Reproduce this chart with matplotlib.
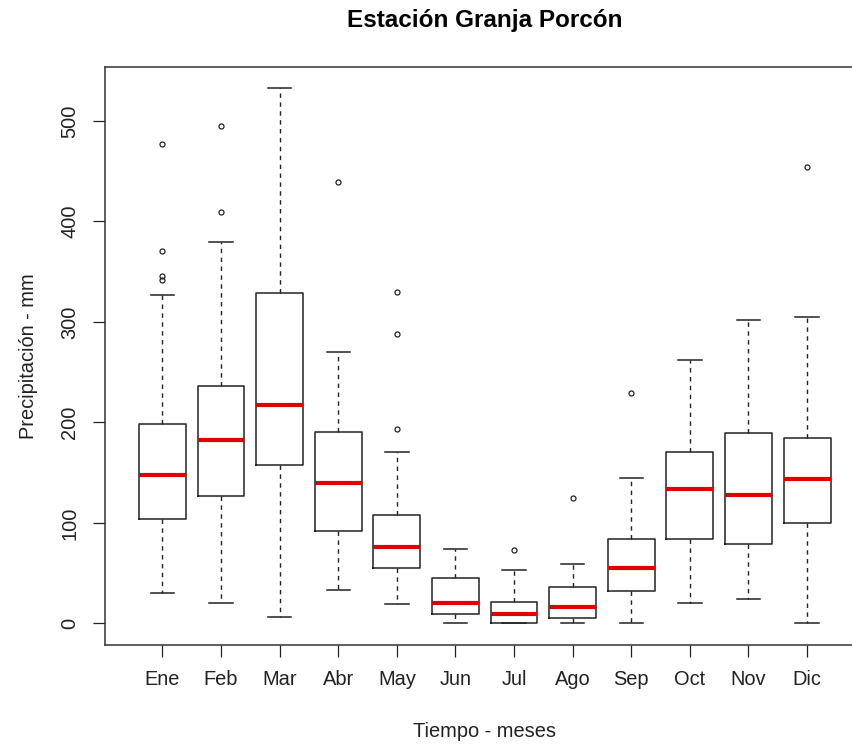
#!/usr/bin/env python3
"""Boxplot of monthly precipitation, Estación Granja Porcón."""

import matplotlib
matplotlib.use("Agg")
import matplotlib.pyplot as plt

# Monthly summary statistics (mm)
months = ["Ene", "Feb", "Mar", "Abr", "May", "Jun",
          "Jul", "Ago", "Sep", "Oct", "Nov", "Dic"]
whisker_low = [30, 20, 6, 33, 19, 0, 0, 0, 0, 20, 24, 0]
quartile_1 = [104, 127, 158, 92, 55, 9, 0, 5, 32, 84, 79, 100]
medians = [148, 183, 217, 140, 76, 20, 9, 16, 55, 134, 128, 144]
quartile_3 = [198, 236, 329, 191, 108, 45, 21, 36, 84, 171, 190, 185]
whisker_high = [327, 380, 533, 270, 171, 74, 53, 59, 145, 262, 302, 305]
outliers = [
    [477, 371, 346, 342],
    [495, 409],
    [],
    [439],
    [330, 288, 194],
    [],
    [73],
    [125],
    [229],
    [],
    [],
    [454],
]

W, H = 853, 746

plt.rcParams.update({
    "font.family": ["Liberation Sans", "DejaVu Sans"],
})

fig = plt.figure(figsize=(W / 100, H / 100), dpi=100, facecolor="white")

# Plot region in pixels; right edge of the box lies past the image border
left, right, top, bottom = 105, 864.5, 67, 645
ax = fig.add_axes([left / W, 1 - bottom / H, (right - left) / W, (bottom - top) / H])

stats = []
for i, m in enumerate(months):
    stats.append(dict(
        label=m,
        whislo=whisker_low[i],
        q1=quartile_1[i],
        med=medians[i],
        q3=quartile_3[i],
        whishi=whisker_high[i],
        fliers=outliers[i],
    ))

ax.bxp(
    stats,
    positions=range(1, len(months) + 1),
    widths=0.8,
    capwidths=0.4,
    showfliers=True,
    boxprops=dict(color="#222222", linewidth=1.1),
    whiskerprops=dict(color="#222222", linewidth=1.0, linestyle=(0, (3.2, 3.2))),
    capprops=dict(color="#222222", linewidth=1.1),
    medianprops=dict(color="#E00000", linewidth=3.0, solid_capstyle="butt"),
    flierprops=dict(marker="o", markersize=3.6, markerfacecolor="none",
                    markeredgecolor="#222222", markeredgewidth=0.9, linestyle="none"),
)

ax.set_xlim(0.02, 12.98)
ax.set_ylim(-21.4, 553.7)
ax.set_yticks([0, 100, 200, 300, 400, 500])
ax.set_yticklabels(["0", "100", "200", "300", "400", "500"], rotation=90, va="center")
ax.set_xticks(range(1, len(months) + 1))
ax.set_xticklabels(months)

ax.tick_params(axis="both", direction="out", length=8.5, width=0.9,
               color="#222222", labelsize=14.4, labelcolor="#222222")
ax.tick_params(axis="x", pad=9.5)
ax.tick_params(axis="y", pad=10)

for sp in ax.spines.values():
    sp.set_linewidth(1.1)
    sp.set_color("#333333")

ax.set_xlabel("Tiempo - meses", fontsize=14.4, color="#222222", labelpad=24)
ax.set_ylabel("Precipitación - mm", fontsize=14.4, color="#222222", labelpad=16)

fig.text((left + right) / 2 / W, 1 - 20 / H, "Estación Granja Porcón",
         ha="center", va="center", fontsize=17.5, fontweight="bold", color="black")

fig.savefig("out.png", dpi=100, facecolor="white")
